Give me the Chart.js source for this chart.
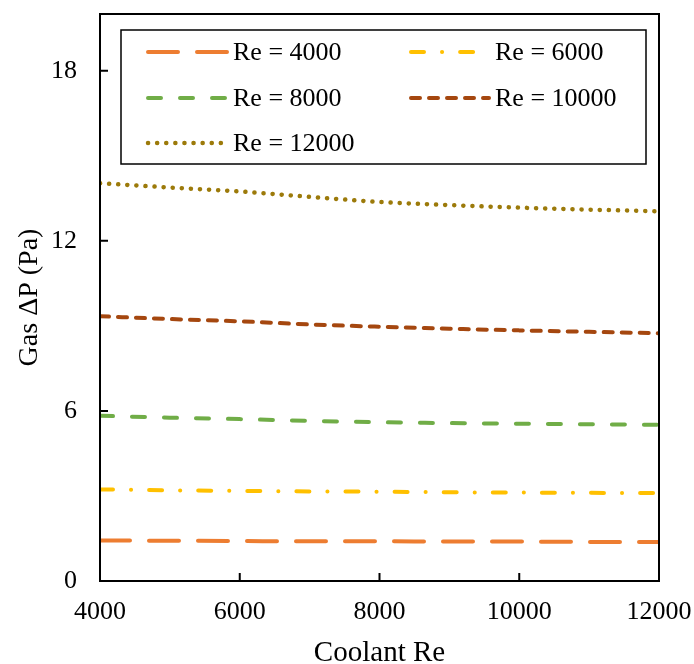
<!DOCTYPE html>
<html>
<head>
<meta charset="utf-8">
<script src="https://cdn.jsdelivr.net/npm/chart.js@4.4.0/dist/chart.umd.min.js"></script>
<style>
  body { margin: 0; background: #fff; }
  #wrap { width: 694px; height: 664px; }
</style>
</head>
<body>
<div id="wrap"><canvas id="myChart"></canvas></div>
<script>
const coolantRe = [4000, 5000, 6000, 7000, 8000, 9000, 10000, 11000, 12000];
const re4000  = [1.43, 1.42, 1.41, 1.40, 1.40, 1.39, 1.39, 1.38, 1.38];
const re6000  = [3.23, 3.20, 3.18, 3.16, 3.15, 3.13, 3.12, 3.11, 3.10];
const re8000  = [5.83, 5.76, 5.71, 5.65, 5.60, 5.57, 5.55, 5.53, 5.51];
const re10000 = [9.34, 9.24, 9.16, 9.05, 8.97, 8.90, 8.84, 8.79, 8.74];
const re12000 = [14.03, 13.88, 13.74, 13.55, 13.37, 13.26, 13.17, 13.10, 13.04];
const yTicks = [0, 6, 12, 18];
const xTicks = [4000, 6000, 8000, 10000, 12000];

const font = "'Liberation Serif', 'Times New Roman', serif";

function pts(vals){
	return coolantRe.map((x, i) => ({x: x, y: vals[i]}));
}

function serie(label, vals, color, dash, width){
	return {
		label: label,
		data: pts(vals),
		borderColor: color,
		borderWidth: width,
		borderDash: dash,
		borderCapStyle: 'round',
		pointRadius: 0,
		fill: false,
		cubicInterpolationMode: 'monotone'
	};
}

function noPad(s){
	s.paddingTop = 0; s.paddingBottom = 0; s.paddingLeft = 0; s.paddingRight = 0;
}

// frame, inside ticks and the boxed legend
const frame = {
	id: 'frame',
	afterDraw(chart){
		const c = chart.ctx, a = chart.chartArea;
		const xs = chart.scales.x, ys = chart.scales.y;
		c.save();
		c.strokeStyle = '#000';
		c.lineWidth = 2;
		c.strokeRect(a.left, a.top, a.right - a.left, a.bottom - a.top);
		c.beginPath();
		yTicks.forEach(v => {
			const y = ys.getPixelForValue(v);
			c.moveTo(a.left, y); c.lineTo(a.left + 8, y);
		});
		xTicks.forEach(v => {
			const x = xs.getPixelForValue(v);
			c.moveTo(x, a.bottom); c.lineTo(x, a.bottom - 8);
		});
		c.stroke();

		// legend
		const bx = 121, by = 30, bw = 525, bh = 134;
		c.fillStyle = '#fff';
		c.fillRect(bx, by, bw, bh);
		c.lineWidth = 1.5;
		c.strokeRect(bx, by, bw, bh);
		const slots = [
			[148, 227, 233, 52], [411, 478, 495, 52],
			[148, 227, 233, 98], [411, 489, 495, 98],
			[148, 227, 233, 143]
		];
		chart.data.datasets.forEach((ds, i) => {
			const s = slots[i];
			c.beginPath();
			c.strokeStyle = ds.borderColor;
			c.lineWidth = ds.borderWidth;
			c.lineCap = 'round';
			c.setLineDash(ds.borderDash);
			c.moveTo(s[0], s[3]); c.lineTo(s[1], s[3]);
			c.stroke();
			c.setLineDash([]);
			c.fillStyle = '#000';
			c.font = '26px ' + font;
			c.textBaseline = 'middle';
			c.textAlign = 'left';
			c.fillText(ds.label, s[2], s[3] + 1);
		});
		c.restore();
	}
};

new Chart(document.getElementById('myChart').getContext('2d'), {
	type: 'line',
	data: {
		datasets: [
			serie('Re = 4000', re4000, '#ED7D31', [30, 19], 4),
			serie('Re = 6000', re6000, '#FFC000', [13, 18, 0.1, 18], 4),
			serie('Re = 8000', re8000, '#70AD47', [13, 19], 4),
			serie('Re = 10000', re10000, '#A5470F', [9, 9], 4),
			serie('Re = 12000', re12000, '#9C7A0A', [0.1, 9], 4.5)
		]
	},
	options: {
		responsive: true,
		maintainAspectRatio: false,
		animation: false,
		layout: { padding: { top: 14, right: 35, left: 0, bottom: 0 } },
		plugins: { legend: { display: false }, tooltip: { enabled: false } },
		scales: {
			x: {
				type: 'linear',
				min: 4000, max: 12000,
				afterBuildTicks: s => { s.ticks = xTicks.map(v => ({value: v})); },
				afterFit: s => { s.height = 83; noPad(s); },
				grid: { display: false, drawTicks: false },
				border: { display: false },
				ticks: { color: '#000', padding: 16, maxRotation: 0, callback: v => String(v),
					font: { family: font, size: 26 } },
				title: { display: true, text: 'Coolant Re', color: '#000', padding: 0,
					font: { family: font, size: 29, lineHeight: 0.75 } }
			},
			y: {
				min: 0, max: 20,
				afterBuildTicks: s => { s.ticks = yTicks.map(v => ({value: v})); },
				afterFit: s => { s.width = 100; noPad(s); },
				grid: { display: false, drawTicks: false },
				border: { display: false },
				ticks: { color: '#000', padding: 23, font: { family: font, size: 26 } },
				title: { display: true, text: 'Gas ΔP (Pa)', color: '#000', padding: { top: 16, bottom: 0 },
					font: { family: font, size: 28, lineHeight: 1 } }
			}
		}
	},
	plugins: [frame]
});
</script>
</body>
</html>
